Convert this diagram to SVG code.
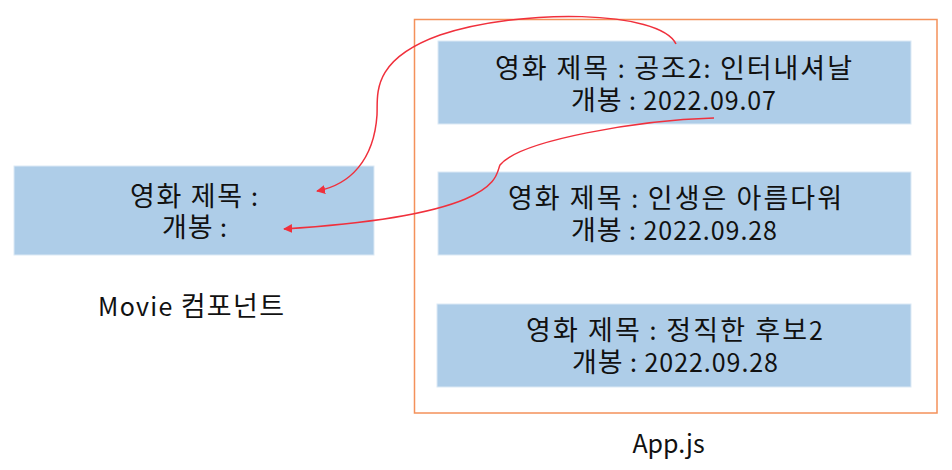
<svg xmlns="http://www.w3.org/2000/svg" width="952" height="470" viewBox="0 0 952 470">
<style>
.box{fill:#aecde8;stroke:#dce9f5;stroke-width:1}
.t{font-family:"Noto Sans CJK KR","Noto Sans",sans-serif;font-size:25px;fill:#111;text-anchor:middle}
.h{font-size:27px}
.arr{fill:none;stroke:#f0303c;stroke-width:1.5;marker-end:url(#ah)}
</style>
<defs>
<marker id="ah" viewBox="0 0 10 10" refX="9" refY="5" markerWidth="9" markerHeight="9" markerUnits="userSpaceOnUse" orient="auto">
<path d="M0,0 L10,5 L0,10 z" fill="#f0303c"/>
</marker>
</defs>
<rect id="app-frame" x="414.5" y="19.5" width="522.5" height="393.5" fill="none" stroke="#f4915a" stroke-width="1.5"/>
<g id="movie">
<rect class="box" x="14" y="166" width="360" height="89"/>
<text class="t" x="194" y="206" textLength="128" lengthAdjust="spacing"><tspan class="h">영화 제목</tspan> :</text>
<text class="t" x="194.5" y="237" textLength="65" lengthAdjust="spacing"><tspan class="h">개봉</tspan> :</text>
</g>
<text class="t" x="191" y="316" textLength="186" lengthAdjust="spacing">Movie <tspan class="h">컴포넌트</tspan></text>
<g id="movie1">
<rect class="box" x="438" y="41" width="473" height="83"/>
<text class="t" x="673.5" y="78" textLength="357" lengthAdjust="spacing"><tspan class="h">영화 제목</tspan> : <tspan class="h">공조</tspan>2: <tspan class="h">인터내셔날</tspan></text>
<text class="t" x="673.5" y="110" textLength="205" lengthAdjust="spacing"><tspan class="h">개봉</tspan> : 2022.09.07</text>
</g>
<g id="movie2">
<rect class="box" x="438" y="172" width="473" height="83"/>
<text class="t" x="675" y="208" textLength="334" lengthAdjust="spacing"><tspan class="h">영화 제목</tspan> : <tspan class="h">인생은 아름다워</tspan></text>
<text class="t" x="674" y="240" textLength="206" lengthAdjust="spacing"><tspan class="h">개봉</tspan> : 2022.09.28</text>
</g>
<g id="movie3">
<rect class="box" x="437" y="304" width="474" height="83"/>
<text class="t" x="674.5" y="340" textLength="297" lengthAdjust="spacing"><tspan class="h">영화 제목</tspan> : <tspan class="h">정직한 후보</tspan>2</text>
<text class="t" x="675" y="372" textLength="206" lengthAdjust="spacing"><tspan class="h">개봉</tspan> : 2022.09.28</text>
</g>
<text class="t" x="668.5" y="453">App.js</text>
<g id="connectors">
<path class="arr" d="M676,44 C660,10 520,8 440,35 C370,60 378,95 377,115 C374,160 350,185 317,191"/>
<path class="arr" d="M714,118 C640,120 520,140 500,165 C495,175 505,215 284,229"/>
</g>
</svg>
